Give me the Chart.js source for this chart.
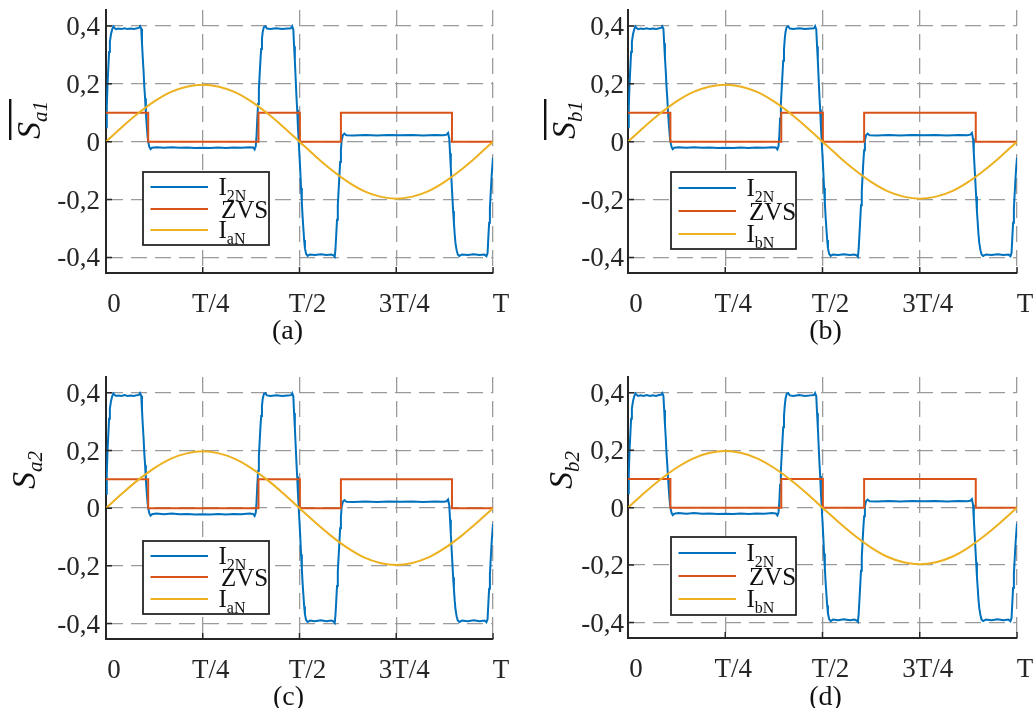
<!DOCTYPE html>
<html>
<head>
<meta charset="utf-8">
<script src="https://cdn.jsdelivr.net/npm/chart.js@4.4.1/dist/chart.umd.min.js"></script>
<style>
  html, body { margin: 0; padding: 0; background: #fff; width: 1036px; height: 708px; overflow: hidden; }
  canvas { position: absolute; }
</style>
</head>
<body>
<canvas id="pa" width="518" height="354" style="left:0;top:0"></canvas>
<canvas id="pb" width="518" height="354" style="left:518px;top:0"></canvas>
<canvas id="pc" width="518" height="362" style="left:0;top:354px"></canvas>
<canvas id="pd" width="518" height="362" style="left:518px;top:354px"></canvas>
<script>
// Axis ticks (time as a fraction of the period T)
const xTicks = [0, 0.25, 0.5, 0.75, 1];
const xTickLabels = ['0', 'T/4', 'T/2', '3T/4', 'T'];
const yTicks = [-0.4, -0.2, 0, 0.2, 0.4];
const yTickLabels = ['-0,4', '-0,2', '0', '0,2', '0,4'];

// I2N: normalised secondary current
const i2nT = [0.000, 0.002, 0.004, 0.006, 0.008, 0.010, 0.013, 0.016, 0.019, 0.022, 0.026, 0.032, 0.040, 0.048, 0.056, 0.064, 0.072, 0.080, 0.085, 0.088,
  0.091, 0.093, 0.095, 0.097, 0.099, 0.101, 0.103, 0.105, 0.107, 0.109, 0.112, 0.115, 0.119, 0.130, 0.150, 0.170, 0.190, 0.210, 0.230, 0.250,
  0.270, 0.290, 0.310, 0.330, 0.350, 0.370, 0.380, 0.384, 0.387, 0.389, 0.391, 0.393, 0.395, 0.397, 0.399, 0.401, 0.403, 0.405, 0.408, 0.412,
  0.416, 0.425, 0.440, 0.455, 0.470, 0.478, 0.481, 0.484, 0.486, 0.488, 0.490, 0.492, 0.494, 0.496, 0.498, 0.500, 0.502, 0.504, 0.506, 0.508,
  0.510, 0.512, 0.514, 0.517, 0.521, 0.527, 0.540, 0.555, 0.570, 0.582, 0.588, 0.591, 0.593, 0.595, 0.597, 0.599, 0.601, 0.603, 0.605, 0.607,
  0.609, 0.612, 0.616, 0.621, 0.640, 0.670, 0.700, 0.730, 0.760, 0.790, 0.820, 0.850, 0.872, 0.880, 0.884, 0.887, 0.889, 0.891, 0.893, 0.895,
  0.897, 0.899, 0.901, 0.903, 0.906, 0.909, 0.913, 0.920, 0.935, 0.950, 0.965, 0.978, 0.983, 0.986, 0.988, 0.990, 0.992, 0.994, 0.996, 0.998, 1.000];
const i2nV = [0.050, 0.120, 0.200, 0.255, 0.310, 0.345, 0.372, 0.388, 0.398, 0.393, 0.389, 0.391, 0.389, 0.392, 0.389, 0.391, 0.389, 0.392, 0.393, 0.399,
  0.390, 0.340, 0.290, 0.245, 0.190, 0.150, 0.100, 0.060, 0.025, 0.000, -0.018, -0.026, -0.021, -0.019, -0.021, -0.019, -0.021, -0.020, -0.022, -0.021,
  -0.022, -0.020, -0.022, -0.020, -0.021, -0.019, -0.020, -0.027, -0.015, 0.020, 0.080, 0.130, 0.180, 0.230, 0.280, 0.320, 0.355, 0.380, 0.396, 0.399,
  0.391, 0.389, 0.392, 0.389, 0.391, 0.392, 0.399, 0.388, 0.330, 0.280, 0.220, 0.160, 0.110, 0.050, 0.000, -0.050, -0.100, -0.160, -0.210, -0.260,
  -0.300, -0.340, -0.368, -0.388, -0.395, -0.390, -0.392, -0.389, -0.392, -0.390, -0.393, -0.398, -0.370, -0.320, -0.270, -0.220, -0.170, -0.120, -0.070, -0.030,
  0.005, 0.022, 0.028, 0.022, 0.021, 0.023, 0.021, 0.023, 0.022, 0.023, 0.021, 0.023, 0.022, 0.024, 0.030, 0.010, -0.040, -0.090, -0.140, -0.190,
  -0.240, -0.280, -0.320, -0.350, -0.375, -0.390, -0.395, -0.390, -0.392, -0.389, -0.392, -0.390, -0.396, -0.385, -0.330, -0.280, -0.230, -0.180, -0.130, -0.090, -0.055];

// ZVS: zero-voltage-switching flag
const zvsT = [0, 0.109, 0.109, 0.394, 0.394, 0.501, 0.501, 0.607, 0.607, 0.894, 0.894, 1];
const zvsV = [0.1, 0.1, 0, 0, 0.1, 0.1, 0, 0, 0.1, 0.1, 0, 0];

// IaN / IbN: normalised phase current
const phT = [0, 0.0417, 0.0833, 0.125, 0.1667, 0.2083, 0.25, 0.2917, 0.3333, 0.375, 0.4167, 0.4583, 0.5,
  0.5417, 0.5833, 0.625, 0.6667, 0.7083, 0.75, 0.7917, 0.8333, 0.875, 0.9167, 0.9583, 1];
const phV = [0, 0.051, 0.098, 0.139, 0.171, 0.190, 0.197, 0.190, 0.171, 0.139, 0.098, 0.051, 0,
  -0.051, -0.098, -0.139, -0.171, -0.190, -0.197, -0.190, -0.171, -0.139, -0.098, -0.051, 0];

const C_BLUE = '#0072BD', C_ORANGE = '#D95319', C_YELLOW = '#EDB120';
const INK = '#262626';
const SERIF = '"Liberation Serif", "Times New Roman", serif';

const panels = [
  { id: 'pa', sub: 'a1', bar: true,  ph: 'aN', tag: '(a)', top: 10, right: 25, yw: 106, xh: 81, tickPad: 6, tx: 40, ty: 139, tagDx: -12, tagY: 332,
    lg: { x: 143, y: 172, w: 126, h: 73, rows: [15, 37, 58] } },
  { id: 'pb', sub: 'b1', bar: true,  ph: 'bN', tag: '(b)', top: 10, right: 19, yw: 110, xh: 81, tickPad: 4, tx: 57, ty: 139, tagDx: 3, tagY: 332,
    lg: { x: 153, y: 172, w: 125, h: 77, rows: [16, 39, 62] } },
  { id: 'pc', sub: 'a2', bar: false, ph: 'aN', tag: '(c)', top: 23, right: 25, yw: 106, xh: 77, tickPad: 6, tx: 35, ty: 135, tagDx: -11, tagY: 344,
    lg: { x: 143, y: 187, w: 126, h: 73, rows: [15, 36, 58] } },
  { id: 'pd', sub: 'b2', bar: false, ph: 'bN', tag: '(d)', top: 23, right: 19, yw: 110, xh: 78, tickPad: 4, tx: 54, ty: 135, tagDx: 3, tagY: 344,
    lg: { x: 153, y: 183, w: 125, h: 78, rows: [16, 39, 62] } }
];

const toXY = (ts, vs) => ts.map((t, i) => ({ x: t, y: vs[i] }));

// Text with a subscript, drawn left-aligned at (x, y) baseline
function subText(ctx, main, sub, x, y, size, subSize, italic) {
  const st = italic ? 'italic ' : '';
  ctx.font = st + size + 'px ' + SERIF;
  ctx.fillText(main, x, y);
  const w = ctx.measureText(main).width;
  ctx.font = st + subSize + 'px ' + SERIF;
  ctx.fillText(sub, x + w, y + Math.round(subSize * 0.35));
  return w + ctx.measureText(sub).width;
}

const decorations = {
  id: 'decorations',
  afterDraw(chart) {
    const p = chart.config.options.panel;
    const ctx = chart.ctx;
    const a = chart.chartArea;
    const xs = chart.scales.x, ys = chart.scales.y;
    ctx.save();

    // inward tick marks on the two axes
    ctx.strokeStyle = INK;
    ctx.lineWidth = 1.5;
    ctx.beginPath();
    xTicks.forEach(v => { const px = xs.getPixelForValue(v); ctx.moveTo(px, a.bottom); ctx.lineTo(px, a.bottom - 6); });
    yTicks.forEach(v => { const py = ys.getPixelForValue(v); ctx.moveTo(a.left, py); ctx.lineTo(a.left + 6, py); });
    ctx.stroke();

    // legend
    const L = p.lg;
    ctx.fillStyle = '#fff';
    ctx.fillRect(L.x, L.y, L.w, L.h);
    ctx.strokeStyle = INK;
    ctx.lineWidth = 1.8;
    ctx.strokeRect(L.x, L.y, L.w, L.h);
    const cols = [C_BLUE, C_ORANGE, C_YELLOW];
    ctx.lineWidth = 2;
    L.rows.forEach((dy, i) => {
      ctx.strokeStyle = cols[i];
      ctx.beginPath();
      ctx.moveTo(L.x + 7.5, L.y + dy);
      ctx.lineTo(L.x + 65, L.y + dy);
      ctx.stroke();
    });
    ctx.fillStyle = '#111';
    ctx.textAlign = 'left';
    ctx.textBaseline = 'alphabetic';
    subText(ctx, 'I', '2N', L.x + 75.5, L.y + L.rows[0] + 8, 25, 16, false);
    ctx.font = '25px ' + SERIF;
    ctx.fillText('ZVS', L.x + 78, L.y + L.rows[1] + 9);
    subText(ctx, 'I', p.ph, L.x + 75.5, L.y + L.rows[2] + 8, 25, 16, false);

    // rotated y-axis title
    ctx.save();
    ctx.translate(p.tx, p.ty);
    ctx.rotate(-Math.PI / 2);
    ctx.fillStyle = '#111';
    const w = subText(ctx, 'S', p.sub, 0, 0, 34, 21, true);
    if (p.bar) ctx.fillRect(-1, -31, w + 3, 2.4);
    ctx.restore();

    // panel tag
    ctx.fillStyle = '#111';
    ctx.textAlign = 'center';
    ctx.textBaseline = 'middle';
    ctx.font = '28px ' + SERIF;
    ctx.fillText(p.tag, (a.left + a.right) / 2 + p.tagDx, p.tagY);
    ctx.restore();
  }
};

function makeChart(p) {
  new Chart(document.getElementById(p.id), {
    type: 'line',
    data: {
      datasets: [
        { label: 'I2N', data: toXY(i2nT, i2nV), borderColor: C_BLUE, borderWidth: 2, pointRadius: 0, tension: 0, order: 3 },
        { label: 'ZVS', data: toXY(zvsT, zvsV), borderColor: C_ORANGE, borderWidth: 2, pointRadius: 0, tension: 0, order: 2 },
        { label: 'I' + p.ph, data: toXY(phT, phV), borderColor: C_YELLOW, borderWidth: 2, pointRadius: 0, cubicInterpolationMode: 'monotone', order: 1 }
      ]
    },
    options: {
      panel: p,
      responsive: false,
      animation: false,
      devicePixelRatio: 1,
      events: [],
      layout: { padding: { left: 0, top: p.top, right: p.right, bottom: 0 } },
      plugins: { legend: { display: false }, tooltip: { enabled: false }, title: { display: false } },
      scales: {
        x: {
          type: 'linear', min: 0, max: 1,
          afterBuildTicks: s => { s.ticks = xTicks.map(v => ({ value: v })); },
          afterFit: s => { s.height = p.xh; s.paddingLeft = 0; s.paddingRight = 0; s.paddingTop = 0; s.paddingBottom = 0; },
          ticks: {
            callback: (v, i) => xTickLabels[i],
            font: { family: SERIF, size: 27 }, color: INK,
            padding: 16, labelOffset: 8, maxRotation: 0, minRotation: 0, autoSkip: false
          },
          grid: { color: '#9b9b9b', lineWidth: 1.3, drawTicks: false },
          border: { color: INK, width: 2, dash: [16, 8] }
        },
        y: {
          type: 'linear', min: -0.454, max: 0.455,
          afterBuildTicks: s => { s.ticks = yTicks.map(v => ({ value: v })); },
          afterFit: s => { s.width = p.yw; s.paddingLeft = 0; s.paddingRight = 0; s.paddingTop = 0; s.paddingBottom = 0; },
          ticks: {
            callback: (v, i) => yTickLabels[i],
            font: { family: SERIF, size: 27 }, color: INK,
            padding: p.tickPad, labelOffset: 2, autoSkip: false
          },
          grid: { color: '#9b9b9b', lineWidth: 1.3, drawTicks: false },
          border: { color: INK, width: 2, dash: [16, 8] }
        }
      }
    },
    plugins: [decorations]
  });
}

panels.forEach(makeChart);
</script>
</body>
</html>
